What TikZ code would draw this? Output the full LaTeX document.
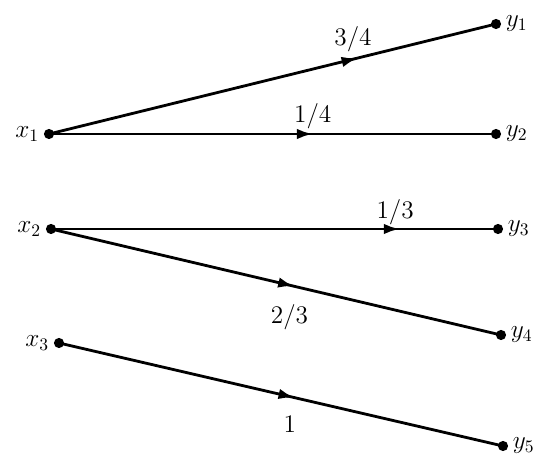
\documentclass[tikz,border=0pt]{standalone}
\usepackage{amsmath}
\usepackage{tikz}
\usetikzlibrary{arrows.meta,decorations.markings}

\tikzset{
  pt/.style={circle, fill=black, inner sep=0pt, minimum size=5.8pt},
  edge/.style={line width=1.6pt, postaction={decorate},
    decoration={markings, mark=at position #1 with {\arrow{Latex[length=9pt,width=6pt]}}}},
  wt/.style={font=\Large}
}

\begin{document}
\begin{tikzpicture}[x=0.02cm, y=-0.02cm]
    \useasboundingbox (0,0) rectangle (538,459);

    % Inputs
    \node[pt, label={[font=\Large, xshift=1pt]left:$x_1$}] (x1) at (49,134) {};
    \node[pt, label={[font=\Large, xshift=1pt]left:$x_2$}] (x2) at (51,229) {};
    \node[pt, label={[font=\Large, xshift=1pt]left:$x_3$}] (x3) at (59,343) {};

    % Outputs
    \node[pt, label={[font=\Large, xshift=-1pt]right:$y_1$}] (y1) at (496,24) {};
    \node[pt, label={[font=\Large, xshift=-1pt]right:$y_2$}] (y2) at (496,134) {};
    \node[pt, label={[font=\Large, xshift=-1pt]right:$y_3$}] (y3) at (498,229) {};
    \node[pt, label={[font=\Large, xshift=-1pt]right:$y_4$}] (y4) at (501,335) {};
    \node[pt, label={[font=\Large, xshift=-1pt]right:$y_5$}] (y5) at (503,446) {};

    % Transitions
    \draw[edge=0.69] (x1.center) -- node[wt, pos=0.68, above=0pt] (w11) {3/4} (y1.center);
    \draw[edge=0.59] (x1.center) -- node[wt, pos=0.59, above=-1pt] (w12) {1/4} (y2.center);
    \draw[edge=0.78] (x2.center) -- node[wt, pos=0.77, above=-2pt] (w23) {1/3} (y3.center);
    \draw[edge=0.54] (x2.center) -- node[wt, pos=0.53, below=7pt] (w24) {2/3} (y4.center);
    \draw[edge=0.53] (x3.center) -- node[wt, pos=0.52, below=7pt] (w35) {1} (y5.center);
\end{tikzpicture}
\end{document}
